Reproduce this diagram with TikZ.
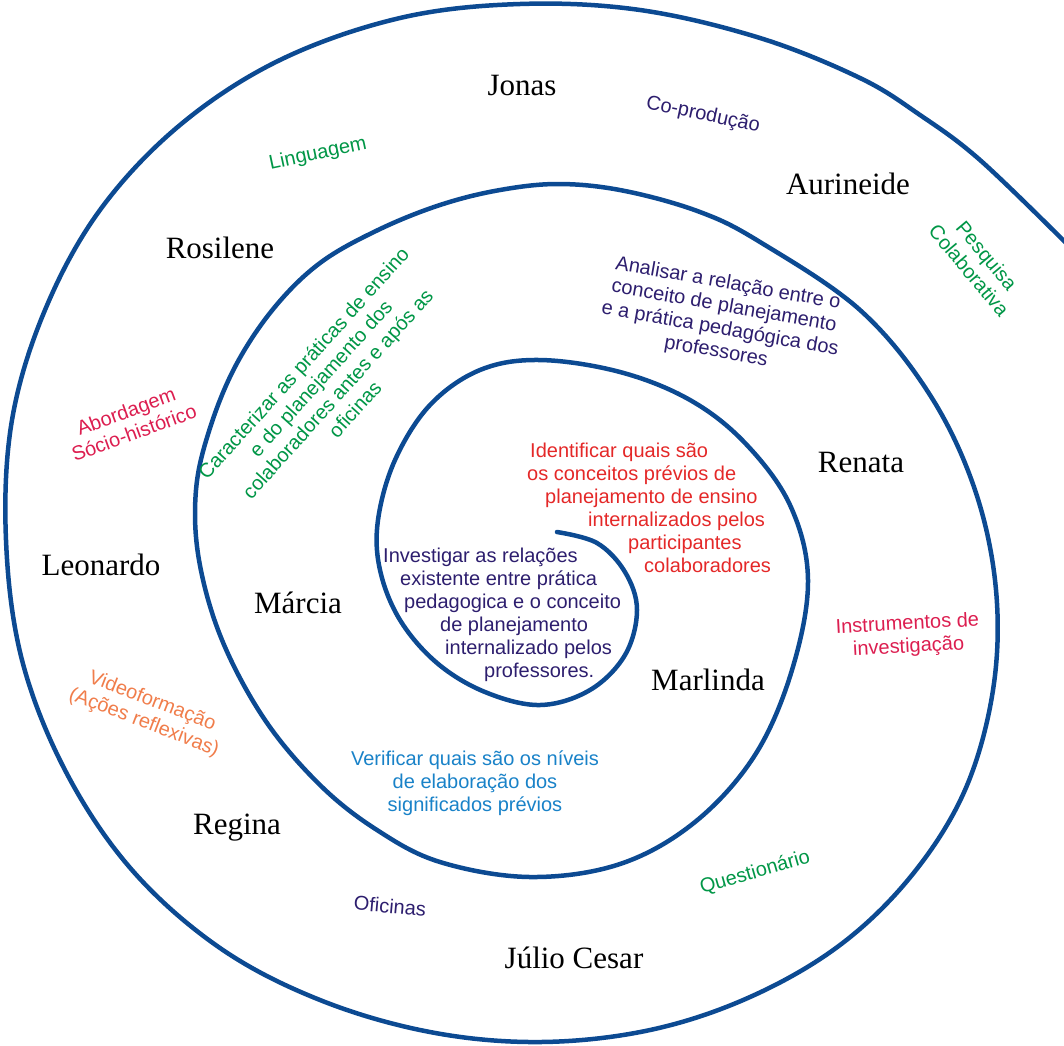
\documentclass[tikz,border=0pt]{standalone}
\usepackage{fontspec}
\setmainfont{Liberation Serif}
\setsansfont{Liberation Sans}
\usepackage{xcolor}

\definecolor{spiralblue}{RGB}{12,74,146}
\definecolor{navy}{RGB}{45,30,110}
\definecolor{leafgreen}{RGB}{0,150,70}
\definecolor{brightred}{RGB}{228,40,40}
\definecolor{crimson}{RGB}{220,30,80}
\definecolor{peach}{RGB}{240,125,75}
\definecolor{skyblue}{RGB}{25,130,200}

\begin{document}
\begin{tikzpicture}[
        x=1pt, y=-1pt,
        spiral/.style={
            draw=spiralblue,
            line width=4.5pt,
            line cap=round
        },
        person/.style={
            font=\fontsize{31}{36}\selectfont,
            inner sep=0pt
        },
        goal/.style={
            font=\sffamily\fontsize{20}{23}\selectfont,
            inner sep=0pt,
            align=center
        }
    ]

        \useasboundingbox (0,0) rectangle (1064,1045);

        % Espiral
        \draw[spiral] plot[smooth, tension=0.6] coordinates {
            (557,532) (597,543) (625,572) (637,610) (625,655) (590,690)
            (540,705) (485,692) (437,663) (400,620) (380,570) (378,520)
            (395,460) (430,405) (480,370) (540,360) (620,372) (690,400)
            (745,443) (790,505) (808,580) (792,670) (755,755) (695,822)
            (620,864) (530,877) (440,862) (377,830) (320,785) (265,720)
            (222,640) (199,560) (196,490) (210,428) (236,365) (274,308)
            (320,263) (378,230) (440,205) (500,190) (560,184) (625,191)
            (700,212) (760,242) (860,310) (930,395) (975,490) (996,590)
            (993,690) (965,790) (912,875) (840,945) (750,997) (650,1030)
            (540,1042) (430,1032) (320,1000) (220,948) (132,870) (66,772)
            (22,660) (6,540) (12,420) (45,310) (100,210) (180,125)
            (280,60) (400,18) (520,4) (640,10) (760,38) (860,78)
            (920,115) (980,160) (1066,243)
        };

        % Participantes
        \node[person] (jonas) at (522,85) {Jonas};
        \node[person] (aurineide) at (848,184) {Aurineide};
        \node[person] (rosilene) at (220,248) {Rosilene};
        \node[person] (renata) at (861,462) {Renata};
        \node[person] (leonardo) at (101,565) {Leonardo};
        \node[person] (marcia) at (298,603) {Márcia};
        \node[person] (marlinda) at (708,680) {Marlinda};
        \node[person] (regina) at (237,828) {Regina};
        \node[person] (julio) at (574,958) {Júlio Cesar};

        % Anel externo: metodologia
        \node[goal, text=navy, rotate=-12] (coproducao) at (703,115) {Co-produção};
        \node[goal, text=leafgreen, rotate=12] (linguagem) at (318,154) {Linguagem};
        \node[goal, text=leafgreen, rotate=-50] (pesquisa) at (978,263) {Pesquisa\\Colaborativa};
        \node[goal, text=crimson, rotate=20] (abordagem) at (130,422) {Abordagem\\Sócio-histórico};
        \node[goal, text=crimson, rotate=3] (instrumentos) at (908,636) {Instrumentos de\\investigação};
        \node[goal, text=peach, rotate=-21] (videoformacao) at (148,712) {Videoformação\\(Ações reflexivas)};
        \node[goal, text=leafgreen, rotate=16] (questionario) at (755,873) {Questionário};
        \node[goal, text=navy, rotate=-5] (oficinas) at (390,906) {Oficinas};

        % Objetivos
        \node[goal, text=leafgreen, rotate=48] (caracterizar) at (329,386)
            {Caracterizar as práticas de ensino\\e do planejamento dos\\colaboradores antes e após as\\oficinas};
        \node[goal, text=navy, rotate=-10] (analisar) at (722,318)
            {Analisar a relação entre o\\conceito de planejamento\\e a prática pedagógica dos\\professores};
        \node[goal, text=brightred, align=left, anchor=west] (identificar) at (527,508)
            {\hspace*{3pt}Identificar quais são\\os conceitos prévios de\\\hspace*{18pt}planejamento de ensino\\\hspace*{61pt}internalizados pelos\\\hspace*{101pt}participantes\\\hspace*{117pt}colaboradores};
        \node[goal, text=navy, align=left, anchor=west] (investigar) at (383,615)
            {Investigar as relações\\\hspace*{17pt}existente entre prática\\\hspace*{21pt}pedagogica e o conceito\\\hspace*{57pt}de planejamento\\\hspace*{62pt}internalizado pelos\\\hspace*{101pt}professores.};
        \node[goal, text=skyblue] (verificar) at (475,783)
            {Verificar quais são os níveis\\de elaboração dos\\significados prévios};

    \end{tikzpicture}
\end{document}
